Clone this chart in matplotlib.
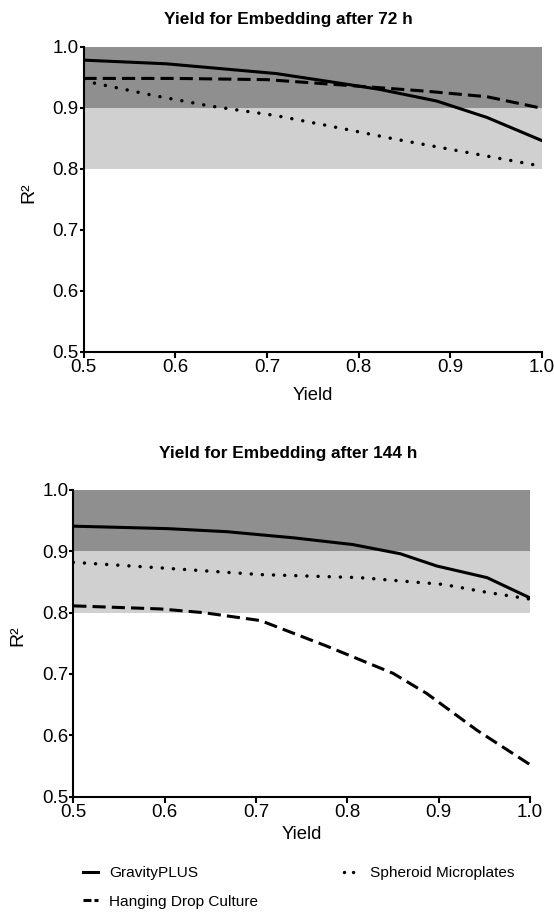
import matplotlib
matplotlib.use('Agg')
import matplotlib.pyplot as plt
from matplotlib.lines import Line2D

plt.rcParams['font.family'] = ['Liberation Sans', 'DejaVu Sans']

# %% Data
# Top panel: 72 h
x_grav_72 = [0.5, 0.59, 0.71, 0.776, 0.823, 0.885, 0.94, 1.0]
y_grav_72 = [0.978, 0.972, 0.956, 0.941, 0.930, 0.911, 0.884, 0.846]
x_hang_72 = [0.5, 0.6, 0.7, 0.812, 0.874, 0.94, 1.0]
y_hang_72 = [0.948, 0.948, 0.946, 0.934, 0.927, 0.918, 0.899]
x_sphe_72 = [0.5, 0.58, 0.637, 0.71, 0.765, 0.838, 0.91, 1.0]
y_sphe_72 = [0.944, 0.919, 0.903, 0.887, 0.871, 0.849, 0.829, 0.804]

# Bottom panel: 144 h
x_grav_144 = [0.5, 0.603, 0.668, 0.741, 0.806, 0.858, 0.898, 0.953, 1.0]
y_grav_144 = [0.941, 0.937, 0.932, 0.922, 0.911, 0.896, 0.876, 0.857, 0.824]
x_hang_144 = [0.5, 0.595, 0.642, 0.705, 0.778, 0.85, 0.887, 0.942, 1.0]
y_hang_144 = [0.811, 0.806, 0.800, 0.787, 0.745, 0.701, 0.668, 0.608, 0.552]
x_sphe_144 = [0.5, 0.595, 0.705, 0.814, 0.905, 0.953, 1.0]
y_sphe_144 = [0.882, 0.873, 0.862, 0.857, 0.846, 0.833, 0.822]

titles = ['Yield for Embedding after 72 h', 'Yield for Embedding after 144 h']
labels = ['GravityPLUS', 'Hanging Drop Culture', 'Spheroid Microplates']
xticks = [0.5, 0.6, 0.7, 0.8, 0.9, 1.0]
yticks = [0.5, 0.6, 0.7, 0.8, 0.9, 1.0]

DARK = '#8f8f8f'
LIGHT = '#d0d0d0'
W, H = 554, 919

# %% Figure
fig = plt.figure(figsize=(W / 100, H / 100), dpi=100)
ax_top = fig.add_axes([83.5 / W, 1 - 351.7 / H, 458.5 / W, 305 / H])
ax_bot = fig.add_axes([73.3 / W, 1 - 796.5 / H, 456.7 / W, 306.5 / H])

panels = [
    (ax_top, (x_grav_72, y_grav_72), (x_hang_72, y_hang_72), (x_sphe_72, y_sphe_72)),
    (ax_bot, (x_grav_144, y_grav_144), (x_hang_144, y_hang_144), (x_sphe_144, y_sphe_144)),
]

for ax, grav, hang, sphe in panels:
    ax.fill_between([0.5, 1.0], 0.9, 1.0, color=DARK, linewidth=0, zorder=0)
    ax.fill_between([0.5, 1.0], 0.8, 0.9, color=LIGHT, linewidth=0, zorder=0)
    ax.plot(*grav, color='black', lw=2.2)
    ax.plot(*hang, color='black', lw=2.2, dashes=(4.3, 2.0))
    ax.plot(*sphe, color='black', lw=2.5, dashes=(0.01, 3.2), dash_capstyle='round')
    ax.set_xlim(0.5, 1.0)
    ax.set_ylim(0.5, 1.0)
    ax.set_xticks(xticks)
    ax.set_yticks(yticks)
    ax.set_xticklabels([f'{t:.1f}' for t in xticks], fontsize=13.5)
    ax.set_yticklabels([f'{t:.1f}' for t in yticks], fontsize=13.5)
    for s in ['top', 'right']:
        ax.spines[s].set_visible(False)
    for s in ['left', 'bottom']:
        ax.spines[s].set_linewidth(1.5)
    ax.tick_params(axis='x', direction='out', length=4, width=1.5, pad=1.5)
    ax.tick_params(axis='y', direction='out', length=3, width=1.5, pad=0.5)

# titles, axis labels placed in pixel positions
fig.text(288 / W, 1 - 24 / H, titles[0], ha='center', va='baseline',
         fontsize=12.4, fontweight='bold')
fig.text(288 / W, 1 - 458.3 / H, titles[1], ha='center', va='baseline',
         fontsize=12.4, fontweight='bold')
fig.text(312.5 / W, 1 - 400 / H, 'Yield', ha='center', va='baseline', fontsize=13.3)
fig.text(302 / W, 1 - 839 / H, 'Yield', ha='center', va='baseline', fontsize=13.3)
fig.text(29 / W, 1 - 193 / H, 'R²', ha='center', va='center', rotation=90, fontsize=14)
fig.text(18 / W, 1 - 636 / H, 'R²', ha='center', va='center', rotation=90, fontsize=14)

handles = [
    Line2D([], [], color='black', lw=2.2),
    Line2D([], [], color='black', lw=2.2, dashes=(2.6, 1.0)),
    Line2D([], [], color='black', lw=2.5, dashes=(0.01, 2.6), dash_capstyle='round'),
]
fig.legend(handles, labels,
           loc='upper left', bbox_to_anchor=(83 / W, 1 - 866 / H), ncol=2,
           frameon=False, fontsize=11.1, handlelength=0.97, handletextpad=0.71,
           columnspacing=5.6, labelspacing=0.95, borderpad=0, borderaxespad=0)

fig.savefig('out.png', dpi=100)
